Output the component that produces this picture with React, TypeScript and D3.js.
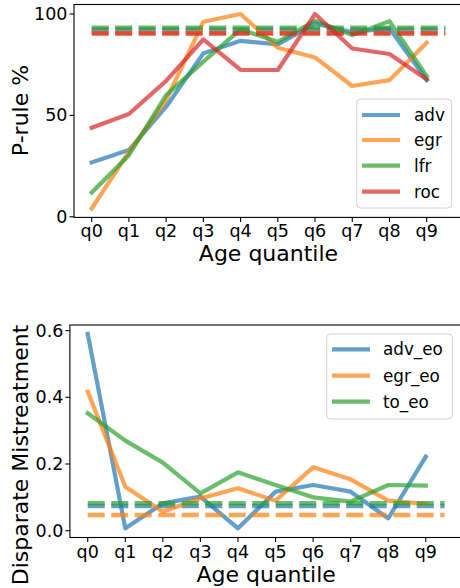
import React from "react";
import * as d3 from "d3";

const quantiles = ["q0", "q1", "q2", "q3", "q4", "q5", "q6", "q7", "q8", "q9"];

// Top chart: P-rule %
const advP = [26.8, 32.9, 54.3, 80.6, 86.8, 85.0, 95.4, 91.0, 93.0, 67.4];
const egrP = [4.1, 32.0, 57.5, 96.2, 100.0, 83.4, 78.6, 64.5, 67.4, 85.8];
const lfrP = [12.0, 30.4, 60.0, 76.5, 92.4, 86.3, 96.7, 89.6, 96.5, 69.4];
const rocP = [43.9, 50.7, 67.0, 87.5, 72.4, 72.4, 100.0, 83.0, 80.3, 67.8];
const topRefs = [92.4, 90.6, 93.2, 90.4];
const topNames = ["adv", "egr", "lfr", "roc"];
const topTicks = [0, 50, 100];

// Bottom chart: Disparate Mistreatment
const advEo = [0.59, 0.007, 0.082, 0.102, 0.007, 0.117, 0.137, 0.117, 0.037, 0.222];
const egrEo = [0.417, 0.132, 0.057, 0.097, 0.127, 0.09, 0.19, 0.154, 0.09, 0.08];
const toEo = [0.352, 0.27, 0.204, 0.112, 0.175, 0.137, 0.1, 0.087, 0.137, 0.135];
const botRefs = [0.074, 0.047, 0.082];
const botNames = ["adv_eo", "egr_eo", "to_eo"];
const botTicks = [0, 0.2, 0.4, 0.6];

const colors = ["#1f77b4", "#ff7f0e", "#2ca02c", "#d62728"];
const FONT = "DejaVu Sans, sans-serif";

type PanelProps = {
  series: number[][];
  refs: number[];
  names: string[];
  yTicks: number[];
  yFmt: (v: number) => string;
  xRange: [number, number];
  yDomain: [number, number];
  yRange: [number, number];
  ylabel: string;
  ylabelY: number;
  legend: { x0: number; y0: number; w: number; h: number; lineX0: number; lineX1: number; textX: number; rows: number[] };
};

function Panel(p: PanelProps) {
  const x = d3.scaleLinear().domain([-0.475, 9.975]).range(p.xRange);
  const y = d3.scaleLinear().domain(p.yDomain).range(p.yRange);
  const left = p.xRange[0];
  const right = p.xRange[1];
  const top = p.yRange[1];
  const bottom = p.yRange[0];
  const line = d3
    .line<number>()
    .x((_, i) => x(i))
    .y((d) => y(d));
  const cx = (left + right) / 2;
  return (
    <g>
      {p.series.map((s, i) => (
        <g key={i}>
          <path
            d={line(s) || ""}
            fill="none"
            stroke={colors[i]}
            strokeOpacity={0.7}
            strokeWidth={4.2}
            strokeLinejoin="round"
            strokeLinecap="square"
          />
          <line
            x1={x(0)}
            x2={x(9.5)}
            y1={y(p.refs[i])}
            y2={y(p.refs[i])}
            stroke={colors[i]}
            strokeOpacity={0.7}
            strokeWidth={4.5}
            strokeDasharray="17 6.5"
          />
        </g>
      ))}
      {/* spines */}
      <rect x={left} y={top} width={right - left} height={bottom - top} fill="none" stroke="#000" strokeWidth={1.1} />
      {/* x ticks */}
      {quantiles.map((q, i) => (
        <g key={q}>
          <line x1={x(i)} x2={x(i)} y1={bottom} y2={bottom + 4.5} stroke="#000" strokeWidth={1.1} />
          <text x={x(i)} y={bottom + 20} textAnchor="middle" fontSize={17.5} fontFamily={FONT} fill="#000">
            {q}
          </text>
        </g>
      ))}
      {/* y ticks */}
      {p.yTicks.map((t) => (
        <g key={t}>
          <line x1={left - 4.5} x2={left} y1={y(t)} y2={y(t)} stroke="#000" strokeWidth={1.1} />
          <text
            x={left - 6.5}
            y={y(t)}
            textAnchor="end"
            dominantBaseline="central"
            fontSize={17.5}
            fontFamily={FONT}
            fill="#000"
          >
            {p.yFmt(t)}
          </text>
        </g>
      ))}
      <text x={cx} y={bottom + 44} textAnchor="middle" fontSize={22} fontFamily={FONT} fill="#000">
        Age quantile
      </text>
      <text
        transform={`translate(27.5,${p.ylabelY}) rotate(-90)`}
        textAnchor="middle"
        fontSize={22}
        fontFamily={FONT}
        fill="#000"
      >
        {p.ylabel}
      </text>
      {/* legend */}
      <rect
        x={p.legend.x0}
        y={p.legend.y0}
        width={p.legend.w}
        height={p.legend.h}
        rx={4}
        fill="#fff"
        fillOpacity={0.8}
        stroke="#d0d0d0"
        strokeWidth={1}
      />
      {p.names.map((n, i) => (
        <g key={n}>
          <line
            x1={p.legend.lineX0}
            x2={p.legend.lineX1}
            y1={p.legend.rows[i]}
            y2={p.legend.rows[i]}
            stroke={colors[i]}
            strokeOpacity={0.7}
            strokeWidth={4.2}
          />
          <text
            x={p.legend.textX}
            y={p.legend.rows[i]}
            dominantBaseline="central"
            fontSize={16.8}
            fontFamily={FONT}
            fill="#000"
          >
            {n}
          </text>
        </g>
      ))}
    </g>
  );
}

export default function App() {
  return (
    <svg
      width={460}
      height={588}
      style={{ position: "absolute", left: 0, top: 0, background: "#fff" }}
    >
      <rect x={0} y={0} width={460} height={588} fill="#fff" />
      <Panel
        series={[advP, egrP, lfrP, rocP]}
        refs={topRefs}
        names={topNames}
        yTicks={topTicks}
        yFmt={(v) => String(v)}
        xRange={[74, 463]}
        yDomain={[-0.3, 104.7]}
        yRange={[217.4, 4.5]}
        ylabel="P-rule %"
        ylabelY={110.5}
        legend={{ x0: 356.7, y0: 99, w: 95, h: 109, lineX0: 362, lineX1: 400, textX: 414, rows: [115, 140, 165.7, 191.7] }}
      />
      <Panel
        series={[advEo, egrEo, toEo]}
        refs={botRefs}
        names={botNames}
        yTicks={botTicks}
        yFmt={d3.format(".1f")}
        xRange={[69.9, 462.4]}
        yDomain={[-0.0204, 0.6168]}
        yRange={[537.5, 325]}
        ylabel="Disparate Mistreatment"
        ylabelY={455}
        legend={{ x0: 326.7, y0: 334, w: 125.6, h: 85, lineX0: 332, lineX1: 370, textX: 383, rows: [349.3, 375.7, 401.7] }}
      />
    </svg>
  );
}
